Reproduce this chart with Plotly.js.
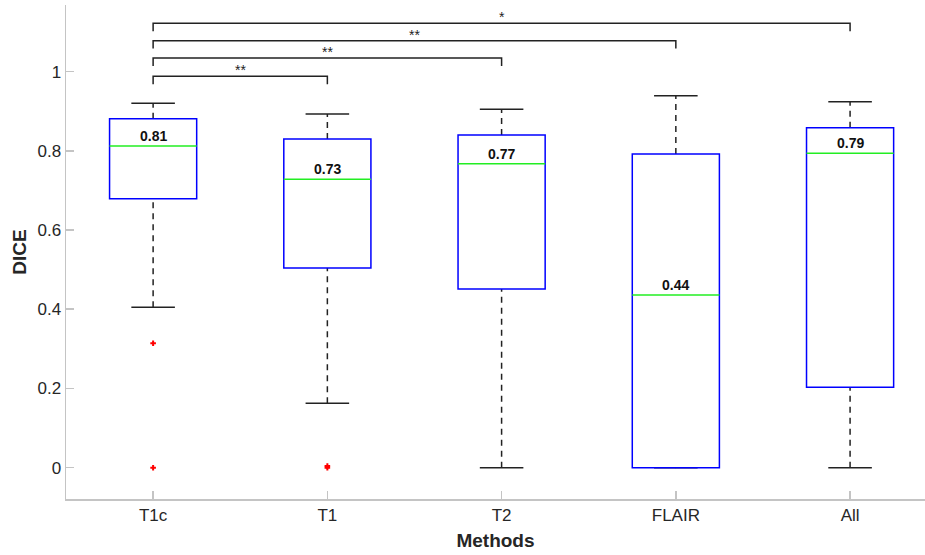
<!DOCTYPE html>
<html>
<head>
<meta charset="utf-8">
<script src="https://cdn.plot.ly/plotly-3.0.1.min.js"></script>
<style>html,body{margin:0;padding:0;background:#fff;}#chart{width:925px;height:555px;}</style>
</head>
<body>
<div id="chart"></div>
<script>
var methods = ["T1c", "T1", "T2", "FLAIR", "All"];
var q1 = [0.679, 0.504, 0.451, 0.0, 0.203];
var median = [0.812, 0.728, 0.767, 0.436, 0.794];
var q3 = [0.881, 0.830, 0.840, 0.792, 0.858];
var lowerWhisker = [0.405, 0.163, 0.0, 0.0, 0.0];
var upperWhisker = [0.920, 0.893, 0.905, 0.939, 0.924];
var medianLabels = ["0.81", "0.73", "0.77", "0.44", "0.79"];
var outlierMethod = [1, 1, 2, 2];
var outlierValue = [0.314, 0.0, 0.0, 0.004];
var compareTo = [2, 3, 4, 5];
var bracketLevel = [0.988, 1.034, 1.078, 1.122];
var bracketStars = ["**", "**", "**", "*"];

var boxHalf = 0.25, capHalf = 0.125, drop = 0.02;
var shapes = [], annotations = [];
for (var i = 0; i < methods.length; i++) {
  var x = i + 1;
  shapes.push({type:'line', xref:'x', yref:'y', x0:x, x1:x, y0:q3[i], y1:upperWhisker[i], line:{color:'#222', width:1.5, dash:'6px,5px'}});
  shapes.push({type:'line', xref:'x', yref:'y', x0:x, x1:x, y0:lowerWhisker[i], y1:q1[i], line:{color:'#222', width:1.5, dash:'6px,5px'}});
  shapes.push({type:'line', xref:'x', yref:'y', x0:x-capHalf, x1:x+capHalf, y0:upperWhisker[i], y1:upperWhisker[i], line:{color:'#222', width:1.5}});
  shapes.push({type:'line', xref:'x', yref:'y', x0:x-capHalf, x1:x+capHalf, y0:lowerWhisker[i], y1:lowerWhisker[i], line:{color:'#222', width:1.5}});
  shapes.push({type:'rect', xref:'x', yref:'y', x0:x-boxHalf, x1:x+boxHalf, y0:q1[i], y1:q3[i], line:{color:'#0000ff', width:1.5}, fillcolor:'rgba(0,0,0,0)'});
  shapes.push({type:'line', xref:'x', yref:'y', x0:x-boxHalf, x1:x+boxHalf, y0:median[i], y1:median[i], line:{color:'#22ee22', width:1.5}});
  annotations.push({xref:'x', yref:'y', x:x, y:median[i], yanchor:'bottom', xanchor:'center', yshift:0, text:'<b>'+medianLabels[i]+'</b>', showarrow:false, font:{family:'Liberation Sans, Arial, sans-serif', size:14, color:'#111'}});
}
for (var j = 0; j < compareTo.length; j++) {
  var xa = 1, xb = compareTo[j], yl = bracketLevel[j];
  shapes.push({type:'path', xref:'x', yref:'y', path:'M '+xa+' '+(yl-drop)+' L '+xa+' '+yl+' L '+xb+' '+yl+' L '+xb+' '+(yl-drop), line:{color:'#222', width:1.5}});
  annotations.push({xref:'x', yref:'y', x:(xa+xb)/2, y:yl, yanchor:'bottom', xanchor:'center', yshift:-4, text:bracketStars[j], showarrow:false, font:{family:'Liberation Sans, Arial, sans-serif', size:14, color:'#222'}});
}

var traces = [{
  type:'scatter', mode:'markers', x:outlierMethod, y:outlierValue,
  marker:{symbol:'cross-thin', size:4, color:'#ff0000', line:{color:'#ff0000', width:2}},
  hoverinfo:'skip', showlegend:false
}];

var layout = {
  width:925, height:555,
  margin:{l:66, r:0, t:5, b:56},
  paper_bgcolor:'#fff', plot_bgcolor:'#fff',
  showlegend:false,
  font:{family:'Liberation Sans, Arial, sans-serif', size:17, color:'#262626'},
  xaxis:{range:[0.5, 5.43], tickvals:[1,2,3,4,5], ticktext:methods, showgrid:false, zeroline:false,
    showline:true, linecolor:'#c4c4c4', linewidth:1.5, ticks:'inside', ticklen:8, tickcolor:'#c4c4c4', tickwidth:1.5,
    tickfont:{size:17, color:'#262626'},
    title:{text:'<b>Methods</b>', font:{size:19, color:'#262626'}, standoff:10}},
  yaxis:{range:[-0.079, 1.168], tickvals:[0,0.2,0.4,0.6,0.8,1], ticktext:['0','0.2','0.4','0.6','0.8','1'], showgrid:false, zeroline:false,
    showline:true, linecolor:'#c4c4c4', linewidth:1.5, ticks:'inside', ticklen:8, tickcolor:'#c4c4c4', tickwidth:1.5,
    tickfont:{size:17, color:'#262626'},
    title:{text:'<b>DICE</b>', font:{size:19, color:'#262626'}, standoff:6}},
  shapes:shapes, annotations:annotations
};
Plotly.newPlot('chart', traces, layout, {displayModeBar:false, staticPlot:true});
</script>
</body>
</html>
